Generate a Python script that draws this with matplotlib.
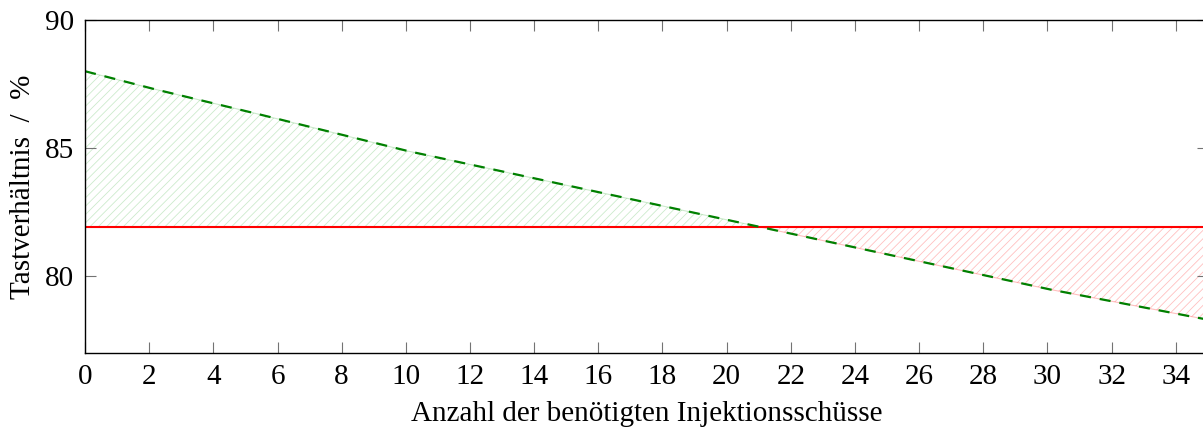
import numpy as np
import matplotlib.pyplot as plt

plt.rcParams['font.family'] = ['Liberation Serif', 'DejaVu Serif']
plt.rcParams['mathtext.fontset'] = 'stix'
plt.rcParams['hatch.linewidth'] = 0.6

# Tastverhältnis über Anzahl der Schüsse
shots = np.array([0, 2, 5, 10, 15, 20, 25, 30, 35])
duty = np.array([88.0, 87.35, 86.45, 84.9, 83.55, 82.2, 80.85, 79.5, 78.3])
limit = 81.9

xfine = np.linspace(0, 35, 701)
yfine = np.interp(xfine, shots, duty)
ref = np.full_like(xfine, limit)

fig = plt.figure(figsize=(12.03, 4.32), dpi=100)
ax = fig.add_axes([0.0707, 0.1829, 0.9333, 0.7708])

ax.fill_between(xfine, yfine, ref, where=yfine >= ref, interpolate=True,
                facecolor='none', edgecolor=(0.0, 0.6, 0.0, 0.2),
                hatch='////', linewidth=0.8)
ax.fill_between(xfine, yfine, ref, where=yfine <= ref, interpolate=True,
                facecolor='none', edgecolor=(1.0, 0.0, 0.0, 0.25),
                hatch='////', linewidth=0.8)
ax.plot([0, 35], [limit, limit], color='red', lw=1.5)
ax.plot(xfine, yfine, color='green', lw=1.6, ls=(0, (5, 4)))

ax.set_xlim(0, 35)
ax.set_ylim(77, 90)
ax.set_xticks(np.arange(0, 35, 2))
ax.set_yticks([80, 85, 90])
ax.tick_params(direction='in', length=8, width=0.8, color='0.45',
               top=True, right=True, labelsize=21, pad=8)
for s in ax.spines.values():
    s.set_linewidth(1.0)

ax.set_xlabel('Anzahl der benötigten Injektionsschüsse', fontsize=21, labelpad=8)
ax.set_ylabel('Tastverhältnis  /  %', fontsize=21, labelpad=6)

fig.savefig('out.png', dpi=100)
